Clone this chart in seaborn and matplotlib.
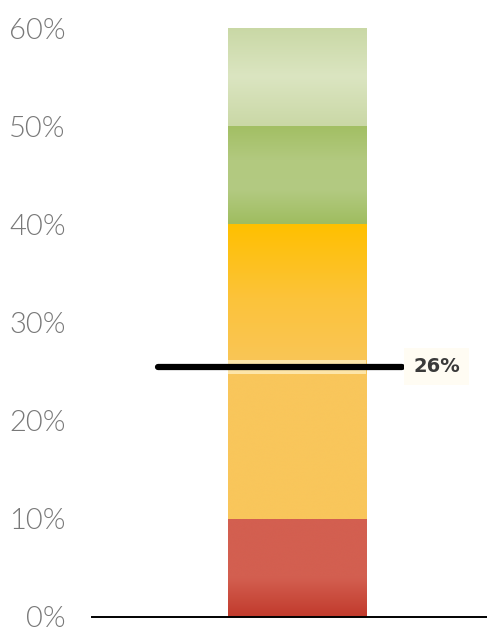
import numpy as np
import pandas as pd
import matplotlib
matplotlib.use("Agg")
import matplotlib.pyplot as plt
from matplotlib.colors import LinearSegmentedColormap
import seaborn as sns

# ---- data ----
band_names = ["poor", "fair_low", "fair_high", "good", "very_good"]
band_heights = [10, 15, 15, 10, 10]          # percent, stacked from 0 to 60
band_stops = [                               # colour stops from bottom to top of each band
    [(0.0, "#c13a2c"), (0.4, "#d35f50"), (1.0, "#d35f50")],
    [(0.0, "#f9c65b"), (1.0, "#f9c65b")],
    [(0.0, "#f9c65b"), (0.5, "#fcc33a"), (1.0, "#ffc000")],
    [(0.0, "#9fbd5f"), (0.35, "#b3ca82"), (0.65, "#b2c97f"), (1.0, "#a2bf63")],
    [(0.0, "#cad8a6"), (0.5, "#dbe5c1"), (1.0, "#c9d8a5")],
]
marker_value = 25.5
marker_label = "26%"
y_ticks = [0, 10, 20, 30, 40, 50, 60]
y_tick_labels = ["0%", "10%", "20%", "30%", "40%", "50%", "60%"]

# ---- figure ----
sns.set_theme(style="white")
plt.rcParams["font.family"] = ["Lato", "DejaVu Sans"]

fig = plt.figure(figsize=(4.87, 6.31), dpi=100)
ax = fig.add_axes([0.189, 0.0222, 0.811, 0.9334])

bottoms = np.concatenate([[0], np.cumsum(band_heights)[:-1]])
for name, h, b, stops in zip(band_names, band_heights, bottoms, band_stops):
    df = pd.DataFrame({"cat": ["score"], "value": [h]})
    sns.barplot(data=df, x="cat", y="value", bottom=b, width=0.8,
                color=stops[-1][1], saturation=1, linewidth=0, ax=ax, zorder=2)
    patch = ax.patches[-1]
    x0, w = patch.get_x(), patch.get_width()
    cmap = LinearSegmentedColormap.from_list(name, stops)
    grad = np.linspace(0, 1, 256).reshape(-1, 1)
    ax.imshow(grad, cmap=cmap, aspect="auto", origin="lower",
              extent=[x0, x0 + w, b, b + h], zorder=3, interpolation="bicubic")

# light highlight band behind the marker on the bar
sns.barplot(x=["score"], y=[1.4], bottom=marker_value - 0.7, width=0.8,
            color="#fde5a8", saturation=1, linewidth=0, ax=ax, zorder=4)

ax.set_xlim(-1.189, 1.10)
ax.set_ylim(0, 60)

# marker line + label
ax.axhline(marker_value, xmin=0.167, xmax=0.785, color="black", lw=4.5,
           solid_capstyle="round", zorder=6)
ax.annotate(marker_label, xy=(0.785, marker_value),
            xycoords=("axes fraction", "data"), xytext=(8, 0),
            textcoords="offset points", ha="left", va="center",
            fontsize=14, fontweight="bold", color="#3a3a3a",
            family=["DejaVu Sans"],
            bbox=dict(boxstyle="square,pad=0.45", fc="#fffcf3", ec="none"),
            zorder=7)

# axes styling
for s in ["top", "right", "left"]:
    ax.spines[s].set_visible(False)
ax.spines["bottom"].set_color("black")
ax.spines["bottom"].set_linewidth(1.4)
ax.spines["bottom"].set_zorder(8)
ax.set_xticks([])
ax.set_xlabel("")
ax.set_ylabel("")
ax.set_yticks(y_ticks)
ax.set_yticklabels(y_tick_labels, fontsize=21, color="#787878", fontweight=300)
for lbl in ax.get_yticklabels():
    lbl.set_va("center_baseline")
ax.tick_params(axis="y", length=0, pad=19)
ax.grid(False)

fig.savefig("out.png", dpi=100)
